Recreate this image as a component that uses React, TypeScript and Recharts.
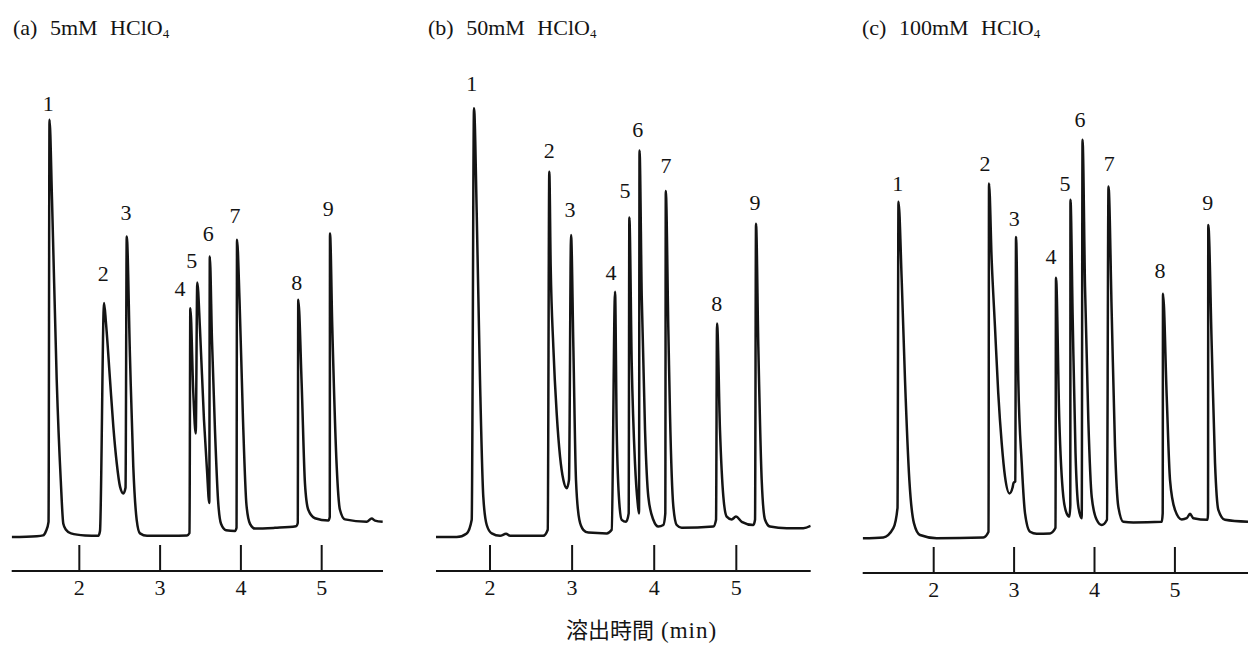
import { LineChart, Line, XAxis, YAxis, ReferenceDot } from 'recharts'

const SERIF = "'Liberation Serif', 'DejaVu Serif', serif"
const CJK = "'Noto Sans CJK JP', 'Noto Sans CJK SC', sans-serif"
const INK = '#141414'

// elution time ticks (min)
const timeTicks = [2, 3, 4, 5]

// detector trace: [time (min), response]
const traceA: [number, number][] = [
  [1.163, 0], [1.473, 0.2], [1.551, 0.4], [1.588, 1.5], [1.619, 3.8], [1.631, 104.3],
  [1.662, 84.3], [1.72, 39.3], [1.77, 14.3], [1.802, 3.3], [1.835, 1.8], [1.897, 0.9],
  [2.071, 0.4], [2.235, 0.3], [2.256, 1.5], [2.306, 58.5], [2.33, 53.5], [2.38, 39.3],
  [2.421, 27.6], [2.463, 18.5], [2.504, 12.6], [2.545, 10.9], [2.572, 12.3], [2.587, 75.1],
  [2.627, 45.1], [2.668, 17.6], [2.71, 4.3], [2.751, 0.9], [2.838, 0.3], [3.123, 0.3],
  [3.333, 0.4], [3.364, 1.0], [3.374, 57.2], [3.411, 36.0], [3.441, 25.9], [3.46, 63.6],
  [3.494, 51.8], [3.543, 29.3], [3.58, 16.8], [3.609, 8.5], [3.615, 70.1], [3.642, 49.3],
  [3.679, 26.8], [3.717, 9.3], [3.754, 3.3], [3.816, 1.7], [3.927, 1.5], [3.946, 2.3],
  [3.952, 74.3], [3.983, 59.3], [4.026, 29.3], [4.069, 8.0], [4.113, 3.3], [4.175, 2.1],
  [4.422, 2.3], [4.682, 2.7], [4.704, 3.5], [4.71, 59.3], [4.752, 38.4], [4.793, 13.4],
  [4.834, 6.8], [4.917, 4.7], [5.082, 4.1], [5.1, 5.0], [5.103, 75.9], [5.131, 52.6],
  [5.186, 17.6], [5.226, 6.8], [5.288, 4.4], [5.557, 3.8], [5.619, 4.6], [5.66, 4.1],
  [5.755, 3.8],
]

const traceB: [number, number][] = [
  [1.342, 0], [1.594, 0], [1.716, 0.9], [1.777, 4.3], [1.805, 107.2], [1.838, 80.9],
  [1.878, 39.3], [1.918, 10.1], [1.96, 3.0], [2.021, 0.9], [2.122, 0.3], [2.195, 0.8],
  [2.244, 0.3], [2.649, 0.3], [2.703, 1.8], [2.722, 91.3], [2.739, 67.6], [2.771, 47.6],
  [2.812, 30.9], [2.853, 20.1], [2.893, 14.3], [2.934, 12.2], [2.962, 14.3], [2.987, 75.5],
  [3.015, 47.6], [3.047, 14.3], [3.088, 4.3], [3.136, 1.8], [3.197, 1.1], [3.421, 0.9],
  [3.482, 1.8], [3.523, 61.3], [3.543, 26.8], [3.575, 8.4], [3.604, 4.3], [3.657, 3.8],
  [3.689, 5.9], [3.697, 79.9], [3.726, 43.4], [3.766, 18.4], [3.799, 8.4], [3.815, 5.9],
  [3.821, 96.6], [3.848, 60.1], [3.888, 26.8], [3.928, 10.1], [3.989, 4.3], [4.05, 2.6],
  [4.111, 3.0], [4.135, 5.9], [4.141, 86.5], [4.172, 51.8], [4.192, 30.9], [4.233, 7.6],
  [4.274, 3.0], [4.335, 2.3], [4.72, 2.6], [4.753, 4.3], [4.765, 53.4], [4.801, 26.8],
  [4.842, 10.1], [4.883, 5.1], [4.944, 4.4], [4.996, 5.1], [5.066, 3.8], [5.207, 3.0],
  [5.228, 4.3], [5.24, 78.3], [5.268, 47.6], [5.309, 14.3], [5.35, 4.3], [5.41, 2.6],
  [5.614, 2.2], [5.816, 2.2], [5.906, 2.8],
]

const traceC: [number, number][] = [
  [1.117, 0.2], [1.373, 0.4], [1.498, 2.7], [1.55, 7.8], [1.562, 84.3], [1.602, 64.8],
  [1.643, 39.8], [1.697, 14.8], [1.755, 3.9], [1.83, 1.0], [2.037, 0.2], [2.617, 0.4],
  [2.682, 1.8], [2.688, 88.9], [2.721, 69.8], [2.762, 53.1], [2.803, 36.4], [2.846, 23.9],
  [2.887, 15.6], [2.943, 11.4], [2.98, 12.8], [2.993, 14.0], [3.015, 14.4], [3.024, 75.5],
  [3.052, 39.8], [3.095, 18.9], [3.136, 6.4], [3.198, 1.8], [3.281, 1.3], [3.447, 1.4],
  [3.515, 2.8], [3.521, 65.3], [3.562, 29.8], [3.612, 10.6], [3.654, 6.4], [3.689, 5.6],
  [3.699, 8.5], [3.701, 84.8], [3.729, 54.8], [3.764, 21.4], [3.799, 8.1], [3.841, 5.2],
  [3.851, 99.8], [3.882, 63.1], [3.923, 29.8], [3.965, 10.6], [4.027, 4.8], [4.09, 3.5],
  [4.155, 4.8], [4.174, 88.1], [4.214, 56.4], [4.255, 23.1], [4.296, 8.1], [4.358, 4.3],
  [4.483, 4.1], [4.836, 4.3], [4.848, 6.4], [4.852, 61.3], [4.898, 35.6], [4.939, 14.8],
  [5.001, 7.3], [5.085, 4.9], [5.147, 5.2], [5.188, 6.3], [5.229, 5.2], [5.406, 4.8],
  [5.412, 6.5], [5.415, 78.5], [5.458, 48.1], [5.499, 18.9], [5.54, 7.3], [5.623, 4.8],
  [5.909, 4.3],
]

// peak number labels: [peak, time, response level of the number]
const peaksA: [string, number, number][] = [
  ['1', 1.616, 108.3], ['2', 2.297, 65.9], ['3', 2.578, 81.1], ['4', 3.246, 62.2],
  ['5', 3.391, 69.1], ['6', 3.597, 75.8], ['7', 3.927, 80.5], ['8', 4.691, 63.6],
  ['9', 5.082, 82.2],
]
const peaksB: [string, number, number][] = [
  ['1', 1.777, 113.3], ['2', 2.722, 96.6], ['3', 2.974, 81.8], ['4', 3.474, 66.2],
  ['5', 3.644, 86.6], ['6', 3.799, 101.8], ['7', 4.144, 93], ['8', 4.761, 58.3],
  ['9', 5.228, 83.6],
]
const peaksC: [string, number, number][] = [
  ['1', 1.552, 88.9], ['2', 2.638, 93.9], ['3', 3.002, 80.2], ['4', 3.459, 70.6],
  ['5', 3.633, 88.8], ['6', 3.82, 104.9], ['7', 4.184, 93.9], ['8', 4.815, 67.1],
  ['9', 5.408, 84.1],
]

function TimeTick(props: any) {
  const { x, y, payload } = props
  return (
    <g>
      <line x1={x} x2={x} y1={y - 26} y2={y} stroke={INK} strokeWidth={2} />
      <text x={x} y={y + 24} textAnchor="middle" style={{ fontFamily: SERIF, fontSize: 22 }} fill={INK}>
        {payload.value}
      </text>
    </g>
  )
}

function PeakLabel(props: any) {
  const { viewBox, value } = props
  const cx = viewBox.x + viewBox.width / 2
  const cy = viewBox.y + viewBox.height / 2
  return (
    <text x={cx} y={cy + 7.5} textAnchor="middle" style={{ fontFamily: SERIF, fontSize: 22 }} fill={INK}>
      {value}
    </text>
  )
}

interface PanelProps {
  trace: [number, number][]
  peaks: [string, number, number][]
  domain: [number, number]
  left: number
  top: number
  margin: { top: number; right: number; bottom: number; left: number }
}

function Panel({ trace, peaks, domain, left, top, margin }: PanelProps) {
  const data = trace.map(([t, v]) => ({ t, v }))
  return (
    <div style={{ position: 'absolute', left, top }}>
      <LineChart width={400} height={611} data={data} margin={margin}>
        <XAxis
          type="number"
          dataKey="t"
          domain={domain}
          allowDataOverflow
          ticks={timeTicks}
          interval={0}
          tickSize={0}
          tickMargin={0}
          tickLine={false}
          height={40}
          axisLine={{ stroke: INK, strokeWidth: 2 }}
          tick={(p: any) => <TimeTick {...p} />}
        />
        <YAxis hide type="number" domain={[-8.5, 120]} allowDataOverflow />
        <Line
          type="monotoneX"
          dataKey="v"
          stroke={INK}
          strokeWidth={2.5}
          strokeLinejoin="round"
          dot={false}
          isAnimationActive={false}
        />
        {peaks.map(([id, t, v]) => (
          <ReferenceDot
            key={id}
            x={t}
            y={v}
            r={1}
            fill="none"
            stroke="none"
            label={<PeakLabel value={id} />}
          />
        ))}
      </LineChart>
    </div>
  )
}

function Title({ left, tag, conc }: { left: number; tag: string; conc: string }) {
  return (
    <div
      style={{
        position: 'absolute',
        left,
        top: 17,
        fontFamily: SERIF,
        fontSize: 22,
        lineHeight: '22px',
        color: INK,
        whiteSpace: 'nowrap',
        wordSpacing: 7,
      }}
    >
      {tag} {conc} HClO
      <span style={{ fontSize: 13, position: 'relative', top: 3 }}>4</span>
    </div>
  )
}

export default function App() {
  return (
    <div
      style={{
        position: 'absolute',
        left: 0,
        top: 0,
        width: 1248,
        height: 655,
        background: '#fff',
        overflow: 'hidden',
      }}
    >
      <Title left={13} tag="(a)" conc="5mM" />
      <Title left={428} tag="(b)" conc="50mM" />
      <Title left={862} tag="(c)" conc="100mM" />

      <Panel
        trace={traceA}
        peaks={peaksA}
        domain={[1.163, 5.759]}
        left={0}
        top={0}
        margin={{ top: 57, right: 17, bottom: 0, left: 11.7 }}
      />
      <Panel
        trace={traceB}
        peaks={peaksB}
        domain={[1.342, 5.906]}
        left={420}
        top={0}
        margin={{ top: 57, right: 9.3, bottom: 0, left: 16 }}
      />
      <Panel
        trace={traceC}
        peaks={peaksC}
        domain={[1.117, 5.909]}
        left={848}
        top={2}
        margin={{ top: 57, right: 0, bottom: 0, left: 14.7 }}
      />

      <div
        style={{
          position: 'absolute',
          left: 566,
          top: 616,
          fontSize: 22,
          lineHeight: '24px',
          color: INK,
          whiteSpace: 'nowrap',
        }}
      >
        <span style={{ fontFamily: CJK }}>溶出時間</span>
        <span style={{ fontFamily: SERIF, fontSize: 23, marginLeft: 7, letterSpacing: 1 }}>(min)</span>
      </div>
    </div>
  )
}
